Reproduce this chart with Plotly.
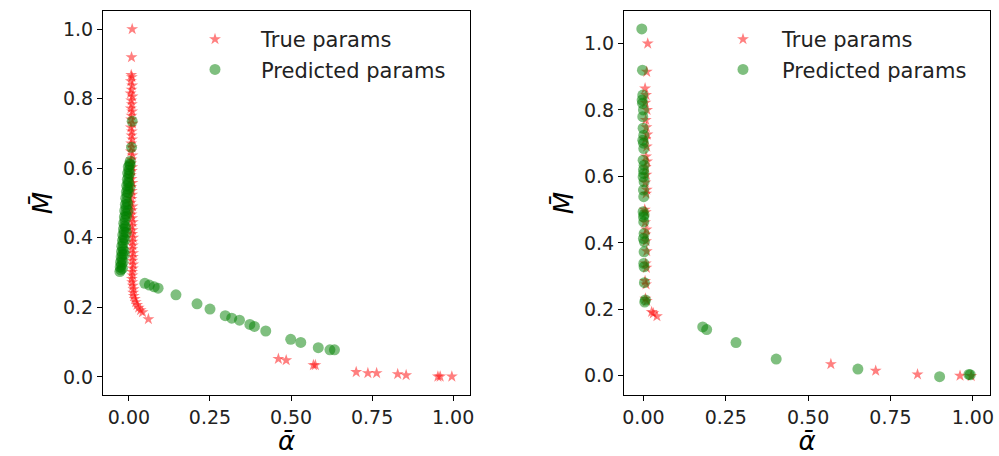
import plotly.graph_objects as go

# ---------------- data ----------------
# Left panel: true parameters
left_true_alpha = [0.010, 0.008, 0.007, 0.009, 0.006, 0.010, 0.008, 0.005, 0.011, 0.007,
                   0.009, 0.006, 0.010, 0.008, 0.007, 0.011, 0.006, 0.009, 0.008, 0.010,
                   0.007, 0.009, 0.006, 0.011, 0.008, 0.007, 0.010, 0.009, 0.006, 0.008,
                   0.011, 0.007, 0.009, 0.010, 0.008, 0.006, 0.011, 0.009, 0.008, 0.010,
                   0.012, 0.009, 0.011, 0.010, 0.013, 0.011, 0.012, 0.010, 0.013, 0.012,
                   0.011, 0.013, 0.012, 0.010, 0.011, 0.009, 0.010, 0.012, 0.014, 0.013,
                   0.015, 0.018, 0.021, 0.025, 0.030, 0.036, 0.042, 0.060,
                   0.461, 0.485, 0.569, 0.575, 0.701, 0.737, 0.764, 0.829, 0.855, 0.953,
                   0.960, 0.996]
left_true_M = [1.000, 0.919, 0.868, 0.862, 0.850, 0.838, 0.826, 0.815, 0.806, 0.795,
               0.784, 0.772, 0.763, 0.751, 0.740, 0.728, 0.717, 0.706, 0.694, 0.683,
               0.671, 0.660, 0.648, 0.637, 0.625, 0.614, 0.603, 0.592, 0.580, 0.569,
               0.558, 0.546, 0.535, 0.524, 0.512, 0.501, 0.490, 0.479, 0.467, 0.456,
               0.445, 0.433, 0.422, 0.411, 0.400, 0.389, 0.378, 0.367, 0.356, 0.345,
               0.334, 0.323, 0.312, 0.302, 0.292, 0.282, 0.272, 0.262, 0.252, 0.242,
               0.233, 0.224, 0.215, 0.207, 0.199, 0.192, 0.186, 0.166,
               0.052, 0.048, 0.034, 0.034, 0.014, 0.011, 0.011, 0.008, 0.005, 0.001,
               0.001, 0.001]

# Left panel: predicted parameters
left_pred_alpha = [-0.028, -0.025, -0.027, -0.023, -0.026, -0.022, -0.024, -0.020, -0.023, -0.019,
                   -0.022, -0.018, -0.020, -0.016, -0.019, -0.015, -0.017, -0.013, -0.016, -0.012,
                   -0.014, -0.010, -0.013, -0.009, -0.011, -0.007, -0.010, -0.006, -0.008, -0.004,
                   -0.007, -0.003, -0.005, -0.001, -0.004, 0.000, -0.002, 0.002, 0.004, 0.008,
                   0.010,
                   -0.018, -0.015, -0.012, -0.010, -0.007, -0.004, -0.002, 0.000, 0.002, 0.004,
                   -0.020, -0.014, -0.008, -0.003, 0.003,
                   0.049, 0.063, 0.078, 0.090, 0.145, 0.210, 0.250, 0.297, 0.317, 0.341,
                   0.373, 0.387, 0.422, 0.499, 0.530, 0.584, 0.620, 0.634]
left_pred_M = [0.303, 0.308, 0.316, 0.322, 0.330, 0.337, 0.345, 0.352, 0.360, 0.368,
               0.376, 0.384, 0.392, 0.400, 0.408, 0.417, 0.425, 0.434, 0.442, 0.451,
               0.460, 0.469, 0.478, 0.487, 0.496, 0.505, 0.514, 0.523, 0.532, 0.541,
               0.550, 0.559, 0.568, 0.577, 0.586, 0.595, 0.604, 0.612, 0.620, 0.660,
               0.735,
               0.330, 0.362, 0.395, 0.430, 0.462, 0.497, 0.530, 0.558, 0.585, 0.610,
               0.312, 0.352, 0.415, 0.478, 0.545,
               0.269, 0.264, 0.259, 0.255, 0.236, 0.210, 0.195, 0.176, 0.169, 0.163,
               0.151, 0.145, 0.132, 0.108, 0.099, 0.084, 0.078, 0.078]

# Right panel: true parameters
right_true_alpha = [0.013, 0.010, 0.005, 0.008, 0.006, 0.011, 0.007, 0.009, 0.012, 0.006,
                    0.010, 0.008, 0.011, 0.007, 0.009, 0.006, 0.010, 0.008, 0.004, 0.007,
                    0.005, 0.009, 0.006, 0.008, 0.010, 0.007, 0.009, 0.005, 0.008, 0.006,
                    0.010, 0.025, 0.030, 0.041,
                    0.569, 0.705, 0.832, 0.961, 0.995]
right_true_M = [1.000, 0.915, 0.865, 0.845, 0.822, 0.800, 0.770, 0.748, 0.726, 0.712,
                0.690, 0.660, 0.645, 0.628, 0.605, 0.582, 0.560, 0.548, 0.500, 0.492,
                0.462, 0.440, 0.425, 0.405, 0.375, 0.338, 0.325, 0.285, 0.275, 0.232,
                0.225, 0.192, 0.188, 0.179,
                0.035, 0.015, 0.004, 0.000, -0.001]

# Right panel: predicted parameters
right_pred_alpha = [-0.005, -0.003, -0.002, -0.004, -0.003, 0.000, -0.002, -0.001, 0.001, -0.002,
                    0.000, 0.001, -0.001, 0.002, 0.000, 0.001, -0.001, 0.002, 0.000, 0.001,
                    -0.001, 0.002, 0.000, 0.001, 0.002, 0.000, 0.003, 0.002, 0.001, 0.002,
                    0.003, 0.006, 0.004,
                    0.180, 0.192, 0.281, 0.403, 0.651, 0.899, 0.988, 0.992]
right_pred_M = [1.044, 0.920, 0.845, 0.830, 0.820, 0.800, 0.780, 0.745, 0.724, 0.709,
                0.700, 0.684, 0.649, 0.634, 0.620, 0.609, 0.598, 0.584, 0.559, 0.539,
                0.494, 0.485, 0.478, 0.463, 0.428, 0.413, 0.403, 0.373, 0.338, 0.328,
                0.280, 0.228, 0.222,
                0.147, 0.139, 0.100, 0.050, 0.020, -0.003, 0.004, 0.003]

x_ticks = [0.0, 0.25, 0.5, 0.75, 1.0]
x_tick_labels = ["0.00", "0.25", "0.50", "0.75", "1.00"]
y_ticks = [0.0, 0.2, 0.4, 0.6, 0.8, 1.0]
y_tick_labels = ["0.0", "0.2", "0.4", "0.6", "0.8", "1.0"]

# ---------------- figure ----------------
FONT = "DejaVu Sans"
STAR = dict(symbol="star", size=9, color="red", opacity=0.5, line=dict(width=0))
DOT = dict(symbol="circle", size=11, color="green", opacity=0.5, line=dict(width=0))

fig = go.Figure()
fig.add_trace(go.Scatter(x=left_true_alpha, y=left_true_M, mode="markers", marker=STAR,
                         name="True params", xaxis="x", yaxis="y", legend="legend",
                         legendgroup="a"))
fig.add_trace(go.Scatter(x=left_pred_alpha, y=left_pred_M, mode="markers", marker=DOT,
                         name="Predicted params", xaxis="x", yaxis="y", legend="legend",
                         legendgroup="b"))
fig.add_trace(go.Scatter(x=right_true_alpha, y=right_true_M, mode="markers", marker=STAR,
                         name="True params", xaxis="x2", yaxis="y2", legend="legend2",
                         legendgroup="c"))
fig.add_trace(go.Scatter(x=right_pred_alpha, y=right_pred_M, mode="markers", marker=DOT,
                         name="Predicted params", xaxis="x2", yaxis="y2", legend="legend2",
                         legendgroup="d"))

axis_common = dict(showline=True, linecolor="black", linewidth=1.2, mirror=True,
                   ticks="outside", ticklen=5, tickwidth=1.2, tickcolor="black",
                   showgrid=False, zeroline=False, automargin=False,
                   tickfont=dict(family=FONT, size=19, color="#222"))

title_font = dict(family=FONT, size=26, color="black")
legend_font = dict(family=FONT, size=21, color="#222")

fig.update_layout(
    width=999, height=456,
    margin=dict(l=0, r=0, t=0, b=0),
    paper_bgcolor="white", plot_bgcolor="white",
    xaxis=dict(domain=[103/999, 470/999], range=[-0.080, 1.052], anchor="y",
               tickvals=x_ticks, ticktext=x_tick_labels,
               title=dict(text="<i>ᾱ</i>", font=title_font, standoff=14), **axis_common),
    yaxis=dict(domain=[1-395/456, 1-11/456], range=[-0.052, 1.052], anchor="x",
               tickvals=y_ticks, ticktext=y_tick_labels,
               title=dict(text="<i>M̄</i>", font=title_font, standoff=2), **axis_common),
    xaxis2=dict(domain=[624/999, 990/999], range=[-0.059, 1.052], anchor="y2",
                tickvals=x_ticks, ticktext=x_tick_labels,
                title=dict(text="<i>ᾱ</i>", font=title_font, standoff=14), **axis_common),
    yaxis2=dict(domain=[1-395/456, 1-11/456], range=[-0.058, 1.098], anchor="x2",
                tickvals=y_ticks, ticktext=y_tick_labels,
                title=dict(text="<i>M̄</i>", font=title_font, standoff=2), **axis_common),
    legend=dict(x=169/999, y=1-19/456, xanchor="left", yanchor="top",
                bgcolor="rgba(0,0,0,0)", borderwidth=0, tracegroupgap=0,
                itemwidth=82, font=legend_font),
    legend2=dict(x=704/999, y=1-19/456, xanchor="left", yanchor="top",
                 bgcolor="rgba(0,0,0,0)", borderwidth=0, tracegroupgap=0,
                 itemwidth=68, font=legend_font),
    showlegend=True,
)

fig.write_html("out.html",
               config={"displayModeBar": False},
               post_script="document.body.style.margin='0';document.body.style.padding='0';"
                           "document.body.style.overflow='hidden';")
